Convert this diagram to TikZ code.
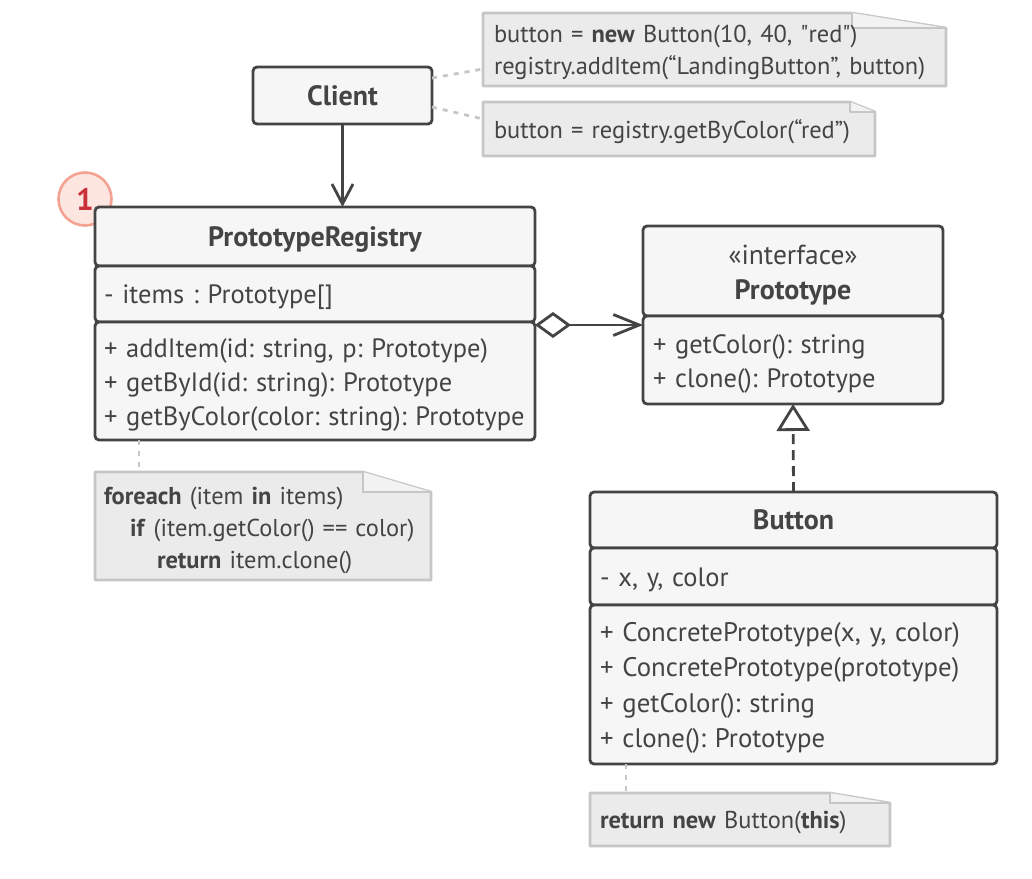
\documentclass[tikz,border=0pt]{standalone}
\usepackage{fontspec}
\setmainfont{PT Sans}
\usetikzlibrary{arrows.meta}
\frenchspacing
\definecolor{ink}{HTML}{444444}
\definecolor{boxfill}{HTML}{F6F6F6}
\definecolor{notefill}{HTML}{EBEBEB}
\definecolor{flapfill}{HTML}{F2F2F2}
\definecolor{noteline}{HTML}{C6C6C6}
\definecolor{badgefill}{HTML}{FDE6E0}
\definecolor{badgeline}{HTML}{F4A292}
\definecolor{badgetext}{HTML}{C8303A}
\newcommand\titlefont{\fontsize{28pt}{32pt}\selectfont\bfseries}
\newcommand\memberfont{\fontsize{26.5pt}{34pt}\selectfont}
\newcommand\btnfont{\fontsize{26.8pt}{35.3pt}\selectfont}
\newcommand\notefont{\fontsize{24.4pt}{32pt}\selectfont}
\newcommand\sq{\textquotedbl}
\tikzset{
  comp/.style={draw=ink, fill=boxfill, line width=2.8pt, rounded corners=4pt,
    anchor=north west, inner sep=0pt, outer sep=0pt, text=ink},
  titled/.style={comp, font=\titlefont, text height=19.6pt, text depth=0pt},
  members/.style={inner sep=0pt, align=left, text=ink, font=\memberfont},
  noteframe/.style={anchor=north west, inner sep=0pt, outer sep=0pt},
  notetext/.style={inner sep=0pt, align=left, text=ink, font=\notefont},
  conn/.style={draw=ink, line width=2.8pt},
  notelink/.style={draw=noteline, line width=2.8pt, dash pattern=on 5pt off 6pt},
  badge/.style={circle, draw=badgeline, fill=badgefill, line width=2.6pt,
    minimum size=53pt, inner sep=0pt, text=badgetext,
    font=\fontsize{31pt}{31pt}\selectfont\bfseries},
}
% note outline with folded top-right corner: node name, fold width, fold height
\newcommand\noteshape[3]{%
  \draw[draw=noteline, fill=notefill, line width=2.6pt, line join=round]
    (#1.north west) -- ([xshift=-#2]#1.north east) -- ([yshift=-#3]#1.north east)
    -- (#1.south east) -- (#1.south west) -- cycle;
  \draw[draw=noteline, fill=flapfill, line width=2.6pt, line join=round]
    ([xshift=-#2]#1.north east) -- ([xshift=-#2,yshift=-#3]#1.north east)
    -- ([yshift=-#3]#1.north east);}
\begin{document}
\begin{tikzpicture}[x=1pt,y=-1pt]
\useasboundingbox (0,0) rectangle (1032,878);

% Client
\node[titled, minimum width=179pt, minimum height=57pt] (client) at (253,67) {Client};

% badge (behind registry corner)
\node[badge] (badge) at (85,199) {1};

% PrototypeRegistry
\node[titled, minimum width=440pt, minimum height=59pt] (regH) at (95,207) {PrototypeRegistry};
\node[comp, minimum width=440pt, minimum height=56pt] (regA) at (95,266) {};
\node[members, text width=422pt] (regAt) at ([yshift=-3.5pt]regA.center) {- items : Prototype[]};
\node[comp, minimum width=440pt, minimum height=118pt] (regM) at (95,322) {};
\node[members, text width=422pt] (regMt) at ([yshift=-3.5pt]regM.center)
  {+ addItem(id: string, p: Prototype)\\+ getById(id: string): Prototype\\+ getByColor(color: string): Prototype};

% Prototype
\node[comp, minimum width=300pt, minimum height=90pt] (protoH) at (643,226) {};
\node[text=ink, font=\fontsize{27.5pt}{30pt}\selectfont, inner sep=0pt] (protoS) at (793,255) {«interface»};
\node[text=ink, font=\titlefont, inner sep=0pt] (protoN) at (793,292) {Prototype};
\node[comp, minimum width=300pt, minimum height=88pt] (protoM) at (643,316) {};
\node[members, text width=280pt] (protoMt) at ([yshift=-3.8pt]protoM.center)
  {+ getColor(): string\\+ clone(): Prototype};

% Button
\node[titled, minimum width=407pt, minimum height=56pt] (btnH) at (590,492) {Button};
\node[comp, minimum width=407pt, minimum height=57pt] (btnA) at (590,548) {};
\node[members, text width=387pt] (btnAt) at ([yshift=-3pt]btnA.center) {- x, y, color};
\node[comp, minimum width=407pt, minimum height=159pt] (btnM) at (590,605) {};
\node[members, font=\btnfont, text width=387pt] (btnMt) at ([yshift=-3.5pt]btnM.center)
  {+ ConcretePrototype(x, y, color)\\+ ConcretePrototype(prototype)\\+ getColor(): string\\+ clone(): Prototype};

% Notes
\node[noteframe, minimum width=463pt, minimum height=73pt] (n1) at (483,13) {};
\noteshape{n1}{94pt}{15pt}
\node[notetext, text width=441pt] (n1t) at ([yshift=-2.5pt]n1.center)
  {button = \textbf{new} Button(10, 40, \sq red\sq)\\registry.addItem(“LandingButton”, button)};

\node[noteframe, minimum width=392pt, minimum height=54pt] (n2) at (483,102) {};
\noteshape{n2}{25pt}{10pt}
\node[notetext, text width=370pt] (n2t) at ([yshift=-3pt]n2.center)
  {button = registry.getByColor(“red”)};

\node[noteframe, minimum width=336pt, minimum height=108pt] (n3) at (95,472) {};
\noteshape{n3}{68pt}{20pt}
\node[notetext, text width=318pt] (n3t) at ([yshift=-4.5pt]n3.center)
  {\textbf{foreach} (item \textbf{in} items)\\\hspace*{26pt}\textbf{if} (item.getColor() == color)\\\hspace*{53pt}\textbf{return} item.clone()};

\node[noteframe, minimum width=300pt, minimum height=53pt] (n4) at (590,793) {};
\noteshape{n4}{60pt}{10pt}
\node[notetext, text width=280pt] (n4t) at ([yshift=-3pt]n4.center)
  {\textbf{return new} Button(\textbf{this})};

% Connectors
\draw[conn, -{Straight Barb[length=20pt,width=21pt]}] (client.south) -- (client.south |- regH.north);
\coordinate (aggS) at ([yshift=-3pt]regM.north east);
\draw[conn, {Diamond[open,length=36pt,width=26pt]}-{Straight Barb[length=26pt,width=21pt]}]
  (aggS) -- (aggS -| protoM.west);
\draw[conn, dash pattern=on 10pt off 6pt, -{Triangle[open,length=27pt,width=33pt]}]
  (btnH.north) -- (protoM.south);

% Note links
\draw[notelink] ([yshift=-11pt]client.north east) -- ([yshift=-56pt]n1.north west);
\draw[notelink] ([yshift=-40pt]client.north east) -- ([yshift=-17pt]n2.north west);
\draw[notelink] ([xshift=44pt]regM.south west) -- ([xshift=44pt]n3.north west);
\draw[notelink] ([xshift=36pt]btnM.south west) -- ([xshift=36pt]n4.north west);
\end{tikzpicture}
\end{document}
